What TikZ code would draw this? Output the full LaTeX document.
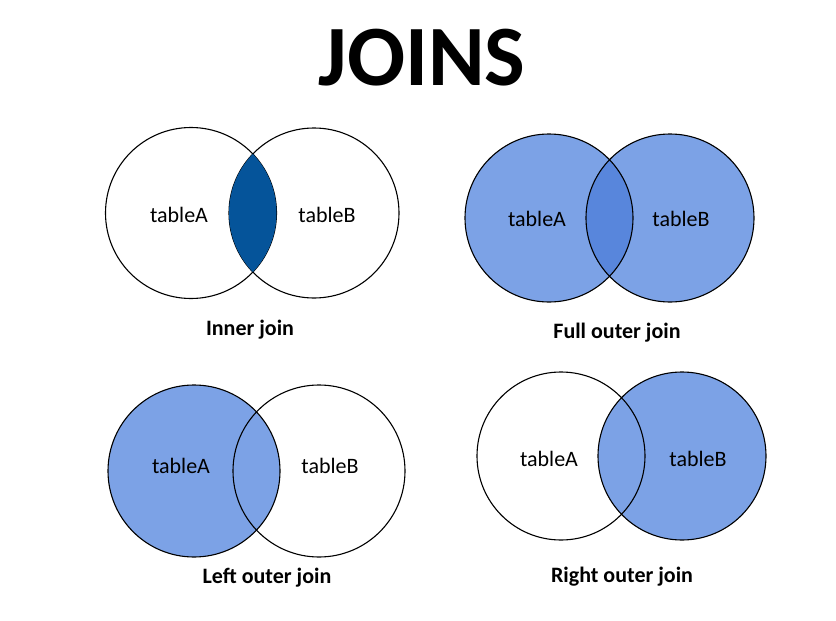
\documentclass[tikz,border=0pt]{standalone}
\usepackage{fontspec}
\setmainfont{Carlito}
\definecolor{fillblue}{RGB}{124,162,230}
\definecolor{lensblue}{RGB}{88,134,220}
\definecolor{darkblue}{RGB}{5,84,154}
\begin{document}
\begin{tikzpicture}[x=1pt,y=-1pt,
  ring/.style={draw=black, line width=1.1pt},
  lbl/.style={font=\fontsize{22}{26}\selectfont, inner sep=0pt, anchor=base},
  joincaption/.style={font=\bfseries\fontsize{22}{26}\selectfont, inner sep=0pt, anchor=base}]
\useasboundingbox[fill=white] (0,0) rectangle (836,621);
\node[font=\bfseries\fontsize{86}{96}\selectfont, inner sep=0pt, anchor=base] (title) at (422,85) {JOINS};

% Inner join
\coordinate (iA) at (191,213);
\coordinate (iB) at (314,213);
\draw[ring] (iA) circle[radius=85.5];
\draw[ring] (iB) circle[radius=85];
\begin{scope}
  \clip (iA) circle[radius=85.5];
  \fill[darkblue] (iB) circle[radius=85];
\end{scope}
\node[lbl] (iAl) at (179,222) {tableA};
\node[lbl] (iBl) at (327,222) {tableB};
\node[joincaption] (icap) at (250,335) {Inner join};

% Full outer join
\coordinate (fA) at (549,218);
\coordinate (fB) at (670,218);
\fill[fillblue] (fA) circle[radius=84];
\fill[fillblue] (fB) circle[radius=84];
\begin{scope}
  \clip (fA) circle[radius=84];
  \fill[lensblue] (fB) circle[radius=84];
\end{scope}
\draw[ring] (fA) circle[radius=84];
\draw[ring] (fB) circle[radius=84];
\node[lbl] (fAl) at (537,226) {tableA};
\node[lbl] (fBl) at (681,226) {tableB};
\node[joincaption] (fcap) at (617,338) {Full outer join};

% Left outer join
\coordinate (lA) at (194,471);
\coordinate (lB) at (319,471);
\fill[fillblue] (lA) circle[radius=86];
\draw[ring] (lA) circle[radius=86];
\draw[ring] (lB) circle[radius=86];
\node[lbl] (lAl) at (181,473) {tableA};
\node[lbl] (lBl) at (330,473) {tableB};
\node[joincaption] (lcap) at (267,583) {Left outer join};

% Right outer join
\coordinate (rA) at (561,456);
\coordinate (rB) at (682,456);
\fill[fillblue] (rB) circle[radius=84];
\draw[ring] (rA) circle[radius=84];
\draw[ring] (rB) circle[radius=84];
\node[lbl] (rAl) at (549,466) {tableA};
\node[lbl] (rBl) at (698,466) {tableB};
\node[joincaption] (rcap) at (622,582) {Right outer join};
\end{tikzpicture}
\end{document}
